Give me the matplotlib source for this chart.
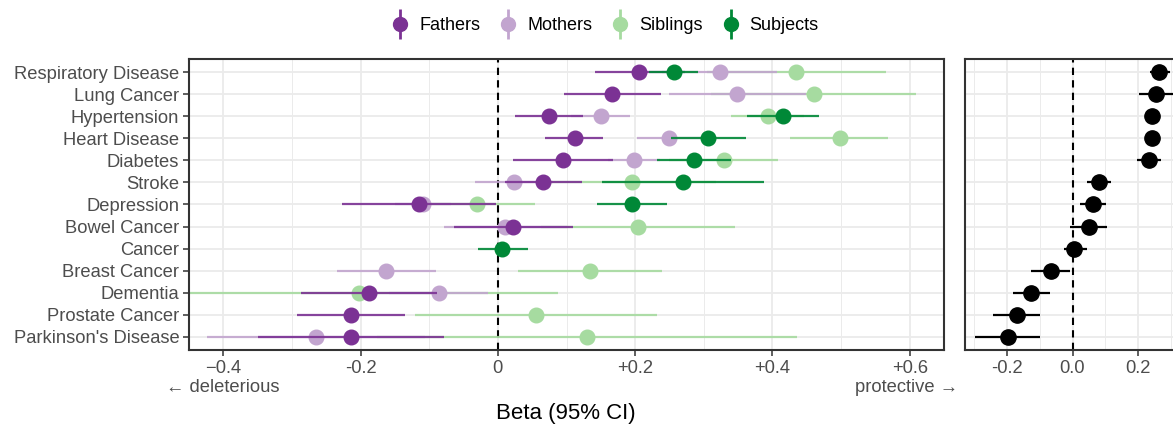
import matplotlib.pyplot as plt
from matplotlib.lines import Line2D
from matplotlib.ticker import FixedLocator, MultipleLocator

plt.rcParams['font.family'] = ['Liberation Sans', 'DejaVu Sans']

diseases = ["Respiratory Disease", "Lung Cancer", "Hypertension", "Heart Disease",
            "Diabetes", "Stroke", "Depression", "Bowel Cancer", "Cancer",
            "Breast Cancer", "Dementia", "Prostate Cancer", "Parkinson's Disease"]

# (disease, beta, lower, upper) for each relative group
fathers = [
    ("Respiratory Disease", 0.206, 0.141, 0.273),
    ("Lung Cancer", 0.167, 0.096, 0.237),
    ("Hypertension", 0.074, 0.025, 0.124),
    ("Heart Disease", 0.112, 0.068, 0.153),
    ("Diabetes", 0.095, 0.022, 0.168),
    ("Stroke", 0.066, 0.011, 0.123),
    ("Depression", -0.115, -0.227, -0.003),
    ("Bowel Cancer", 0.022, -0.064, 0.110),
    ("Dementia", -0.188, -0.287, -0.089),
    ("Prostate Cancer", -0.214, -0.293, -0.135),
    ("Parkinson's Disease", -0.214, -0.349, -0.079),
]
mothers = [
    ("Respiratory Disease", 0.323, 0.239, 0.407),
    ("Lung Cancer", 0.349, 0.249, 0.449),
    ("Hypertension", 0.150, 0.107, 0.193),
    ("Heart Disease", 0.250, 0.202, 0.298),
    ("Diabetes", 0.198, 0.160, 0.236),
    ("Stroke", 0.023, -0.034, 0.080),
    ("Depression", -0.109, -0.150, -0.068),
    ("Bowel Cancer", 0.011, -0.079, 0.100),
    ("Breast Cancer", -0.163, -0.235, -0.090),
    ("Dementia", -0.086, -0.158, -0.014),
    ("Parkinson's Disease", -0.265, -0.424, -0.106),
]
siblings = [
    ("Respiratory Disease", 0.435, 0.304, 0.566),
    ("Lung Cancer", 0.460, 0.311, 0.609),
    ("Hypertension", 0.393, 0.340, 0.446),
    ("Heart Disease", 0.498, 0.426, 0.569),
    ("Diabetes", 0.329, 0.250, 0.408),
    ("Stroke", 0.196, 0.074, 0.318),
    ("Depression", -0.031, -0.116, 0.054),
    ("Bowel Cancer", 0.204, 0.063, 0.345),
    ("Breast Cancer", 0.134, 0.030, 0.239),
    ("Dementia", -0.202, -0.492, 0.088),
    ("Prostate Cancer", 0.056, -0.121, 0.232),
    ("Parkinson's Disease", 0.130, -0.176, 0.436),
]
subjects = [
    ("Respiratory Disease", 0.256, 0.220, 0.292),
    ("Hypertension", 0.416, 0.363, 0.468),
    ("Heart Disease", 0.306, 0.252, 0.362),
    ("Diabetes", 0.286, 0.232, 0.340),
    ("Stroke", 0.270, 0.152, 0.388),
    ("Depression", 0.195, 0.145, 0.247),
    ("Cancer", 0.006, -0.029, 0.044),
]

# pooled estimate per disease, same order as `diseases`
pooled_beta = [0.264, 0.256, 0.243, 0.243, 0.233, 0.080, 0.063, 0.050, 0.006,
               -0.067, -0.126, -0.169, -0.198]
pooled_lo = [0.235, 0.203, 0.221, 0.221, 0.197, 0.045, 0.024, -0.008, -0.026,
             -0.128, -0.182, -0.243, -0.296]
pooled_hi = [0.297, 0.309, 0.267, 0.267, 0.271, 0.118, 0.103, 0.106, 0.043,
             -0.008, -0.069, -0.098, -0.100]

# PRGn brewer palette; drawn bottom to top
groups = [
    ("Siblings", siblings, "#A6DBA0", 2),
    ("Mothers", mothers, "#C2A5CF", 3),
    ("Fathers", fathers, "#7B3294", 4),
    ("Subjects", subjects, "#008837", 5),
]
legend_order = ["Fathers", "Mothers", "Siblings", "Subjects"]

W, H = 1173, 428
fig = plt.figure(figsize=(W / 100, H / 100), dpi=100)
ax = fig.add_axes([189 / W, 1 - 350 / H, 755 / W, 291 / H])
ax2 = fig.add_axes([965 / W, 1 - 350 / H, 215 / W, 291 / H])

row = {d: i for i, d in enumerate(diseases)}
grid_col = "#EBEBEB"
frame_col = "#333333"
text_col = "#4D4D4D"
fs = 13.2


def style(a):
    a.set_axisbelow(True)
    a.set_ylim(len(diseases) - 0.4, -0.6)
    a.yaxis.set_major_locator(FixedLocator(range(len(diseases))))
    a.xaxis.set_minor_locator(MultipleLocator(0.1))
    a.grid(which='major', color=grid_col, lw=1.3)
    a.grid(which='minor', axis='x', color=grid_col, lw=0.7)
    for s in a.spines.values():
        s.set_color(frame_col)
        s.set_linewidth(1.5)
    a.tick_params(which='major', length=4, width=1.1, color=frame_col,
                  labelcolor=text_col, labelsize=fs, pad=3)
    a.tick_params(which='minor', length=0)
    a.axvline(0, color='black', ls=(0, (3.5, 2.5)), lw=1.5, zorder=1.5)


style(ax)
style(ax2)

for name, data, color, z in groups:
    ys = [row[d] for d, _, _, _ in data]
    betas = [b for _, b, _, _ in data]
    ax.hlines(ys, [lo for _, _, lo, _ in data], [hi for _, _, _, hi in data],
              color=color, lw=1.6, alpha=0.9, zorder=z)
    ax.plot(betas, ys, 'o', ms=10.5, color=color, zorder=z + 0.5)

ax.set_xlim(-0.45, 0.65)
ax.xaxis.set_major_locator(FixedLocator([-0.4, -0.2, 0, 0.2, 0.4, 0.6]))
ax.set_xticklabels(["\u22120.4", "-0.2", "0", "+0.2", "+0.4", "+0.6"])
ax.set_yticklabels(diseases)

ys = list(range(len(diseases)))
ax2.hlines(ys, pooled_lo, pooled_hi, color='black', lw=1.6, zorder=3)
ax2.plot(pooled_beta, ys, 'o', ms=11, color='black', zorder=4)
ax2.set_xlim(-0.328, 0.328)
ax2.xaxis.set_major_locator(FixedLocator([-0.2, 0.0, 0.2]))
ax2.set_xticklabels(["-0.2", "0.0", "0.2"])
ax2.tick_params(axis='y', left=False, labelleft=False)

fig.text(166 / W, 1 - 387 / H, "\u2190 deleterious", ha='left', va='center',
         color=text_col, fontsize=fs)
fig.text(958 / W, 1 - 387 / H, "protective \u2192", ha='right', va='center',
         color=text_col, fontsize=fs)
fig.text(566 / W, 1 - 413 / H, "Beta (95% CI)", ha='center', va='center',
         color='black', fontsize=16)

colors = {name: color for name, _, color, _ in groups}
handles = [(Line2D([], [], marker='|', ms=21, mew=2, ls='', color=colors[n]),
            Line2D([], [], marker='o', ms=10, ls='', color=colors[n]))
           for n in legend_order]
fig.legend(handles, legend_order, loc='center', ncol=4, frameon=False,
           bbox_to_anchor=(605 / W, 1 - 26 / H), fontsize=13,
           handlelength=1.0, handletextpad=0.55, columnspacing=1.05)

fig.savefig("out.png", dpi=100)
